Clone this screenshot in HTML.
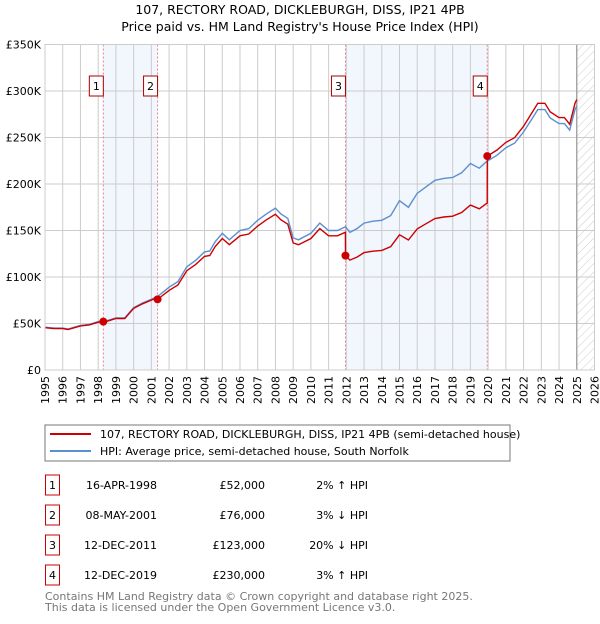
<!DOCTYPE html>
<html><head><meta charset="utf-8"><style>
body{margin:0;background:#fff;font-family:"DejaVu Sans","Liberation Sans",sans-serif}
svg text{font-family:"DejaVu Sans","Liberation Sans",sans-serif}
</style></head><body>
<svg id="c" width="600" height="620" viewBox="0 0 600 620" xmlns="http://www.w3.org/2000/svg">
<defs><pattern id="hatch" width="6" height="6" patternUnits="userSpaceOnUse" patternTransform="rotate(45)"><line x1="0" y1="0" x2="0" y2="6" stroke="#ccc" stroke-width="1"/></pattern></defs>
<text x="300" y="14" text-anchor="middle" font-size="12.5">107, RECTORY ROAD, DICKLEBURGH, DISS, IP21 4PB</text>
<text x="300" y="31" text-anchor="middle" font-size="12.5">Price paid vs. HM Land Registry's House Price Index (HPI)</text>
<g id="plot"></g>
<rect x="45" y="425" width="465" height="36" fill="#fff" stroke="#777"/>
<line x1="50" y1="434" x2="91" y2="434" stroke="#cc0000" stroke-width="2"/>
<text x="100" y="438" font-size="11">107, RECTORY ROAD, DICKLEBURGH, DISS, IP21 4PB (semi-detached house)</text>
<line x1="50" y1="451" x2="91" y2="451" stroke="#5b8fd0" stroke-width="2"/>
<text x="100" y="455" font-size="11">HPI: Average price, semi-detached house, South Norfolk</text>
<g id="table"></g>
<text x="45" y="600" font-size="11" fill="#777">Contains HM Land Registry data © Crown copyright and database right 2025.</text>
<text x="45" y="611" font-size="11" fill="#777">This data is licensed under the Open Government Licence v3.0.</text>
</svg>
<script>
const hpiYears=[1995,1995.5,1996,1996.3,1997,1997.5,1998,1998.5,1999,1999.5,2000,2000.5,2001,2001.35,2002,2002.5,2003,2003.5,2004,2004.3,2004.6,2005,2005.4,2006,2006.5,2007,2007.5,2008,2008.3,2008.7,2009,2009.3,2010,2010.5,2011,2011.5,2011.95,2012.2,2012.6,2013,2013.5,2014,2014.5,2015,2015.5,2016,2016.5,2017,2017.5,2018,2018.5,2019,2019.5,2019.9,2020.5,2021,2021.5,2022,2022.5,2022.8,2023.2,2023.5,2024,2024.3,2024.6,2024.9,2025.0];
const hpiValues=[46,45,45,44,48,49,52,53,56,56,67,72,76,79,89,95,111,118,127,128,138,147,140,150,152,161,168,174,168,163,142,140,147,158,150,150,154,148,152,158,160,161,166,182,175,190,197,204,206,207,212,222,217,224,231,239,244,256,271,280,280,271,265,265,258,280,284];
const saleYears=[1998.29,2001.35,2011.95,2019.95];
const salePrices=[52000,76000,123000,230000];
const saleLabels=["1","2","3","4"];
const saleDates=["16-APR-1998","08-MAY-2001","12-DEC-2011","12-DEC-2019"];
const salePriceText=["£52,000","£76,000","£123,000","£230,000"];
const saleHpiText=["2% ↑ HPI","3% ↓ HPI","20% ↓ HPI","3% ↑ HPI"];
const yTicks=[0,50,100,150,200,250,300,350];
const yTickLabels=["£0","£50K","£100K","£150K","£200K","£250K","£300K","£350K"];
const xStart=1995,xEnd=2026;

const NS="http://www.w3.org/2000/svg";
const L=45,R=594.5,T=44.5,B=370;
const xs=y=>L+(y-xStart)/(xEnd-xStart)*(R-L);
const ys=v=>B-v/350*(B-T);
function mk(tag,attrs,parent){const e=document.createElementNS(NS,tag);for(const k in attrs)e.setAttribute(k,attrs[k]);parent.appendChild(e);return e;}
function hpiAt(t){if(t<=hpiYears[0])return hpiValues[0];for(let i=1;i<hpiYears.length;i++){if(t<=hpiYears[i]){const f=(t-hpiYears[i-1])/(hpiYears[i]-hpiYears[i-1]);return hpiValues[i-1]+f*(hpiValues[i]-hpiValues[i-1]);}}return hpiValues[hpiValues.length-1];}
const g=document.getElementById('plot');
for(let i=0;i<saleYears.length;i+=2){const r=mk('rect',{x:xs(saleYears[i]),y:T,width:xs(saleYears[i+1])-xs(saleYears[i]),height:B-T,fill:'#f2f6fd'},g);

}
const hr=mk('rect',{x:xs(2025),y:T,width:R-xs(2025),height:B-T,fill:'url(#hatch)'},g);


for(let y=xStart;y<=xEnd;y++){const l=mk('line',{x1:xs(y),x2:xs(y),y1:T,y2:B,stroke:'#ccc','stroke-width':1},g);


const t=mk('text',{transform:`translate(${xs(y)+4},${B+6}) rotate(-90)`,'text-anchor':'end','font-size':11},g);t.textContent=y;

}
yTicks.forEach((v,i)=>{const l=mk('line',{x1:L,x2:R,y1:ys(v),y2:ys(v),stroke:'#ccc','stroke-width':1},g);


const t=mk('text',{x:L-4,y:ys(v)+4,'text-anchor':'end','font-size':11},g);t.textContent=yTickLabels[i];

});
const vl=mk('line',{x1:xs(2025),x2:xs(2025),y1:T,y2:B,stroke:'#999','stroke-width':1.2},g);


saleYears.forEach((s,i)=>{const l=mk('line',{x1:xs(s),x2:xs(s),y1:T,y2:B,stroke:'#ee8090','stroke-width':1,'stroke-dasharray':'2,2'},g);


const b=mk('rect',{x:xs(s)-14,y:76,width:14,height:20,fill:'#fff',stroke:'#aa0000'},g);


const t=mk('text',{x:xs(s)-7,y:90,'text-anchor':'middle','font-size':11},g);t.textContent=saleLabels[i];

});
let d='';hpiYears.forEach((y,i)=>{d+=(i?'L':'M')+xs(y).toFixed(1)+','+ys(hpiValues[i]).toFixed(1);});
const hp=mk('path',{d,fill:'none',stroke:'#5b8fd0','stroke-width':1.4},g);


const ts=[...new Set([...hpiYears,...saleYears,...saleYears.map(s=>s-0.001)])].sort((a,b)=>a-b);
let pd='';ts.forEach((t,i)=>{let k=0;for(let j=0;j<saleYears.length;j++)if(t>=saleYears[j])k=j;
const v=salePrices[k]/1000*hpiAt(t)/hpiAt(saleYears[k]);pd+=(i?'L':'M')+xs(t).toFixed(1)+','+ys(v).toFixed(1);});
const pp=mk('path',{d:pd,fill:'none',stroke:'#cc0000','stroke-width':1.4},g);


saleYears.forEach((s,i)=>{const c=mk('circle',{cx:xs(s),cy:ys(salePrices[i]/1000),r:4,fill:'#cc0000'},g);

});
const fr=mk('rect',{x:L,y:T,width:R-L,height:B-T,fill:'none',stroke:'#ccc'},g);


const tb=document.getElementById('table');
saleLabels.forEach((lab,i)=>{const y0=475+i*30;
const b=mk('rect',{x:45.5,y:y0,width:14,height:20,fill:'#fff',stroke:'#cc0000'},tb);


const cells=[[52.5,lab,'middle'],[157,saleDates[i],'end'],[265,salePriceText[i],'end'],[368,saleHpiText[i],'end']];
cells.forEach(c=>{const t=mk('text',{x:c[0],y:y0+14,'text-anchor':c[2],'font-size':11},tb);t.textContent=c[1];

});});
</script>
</body></html>
